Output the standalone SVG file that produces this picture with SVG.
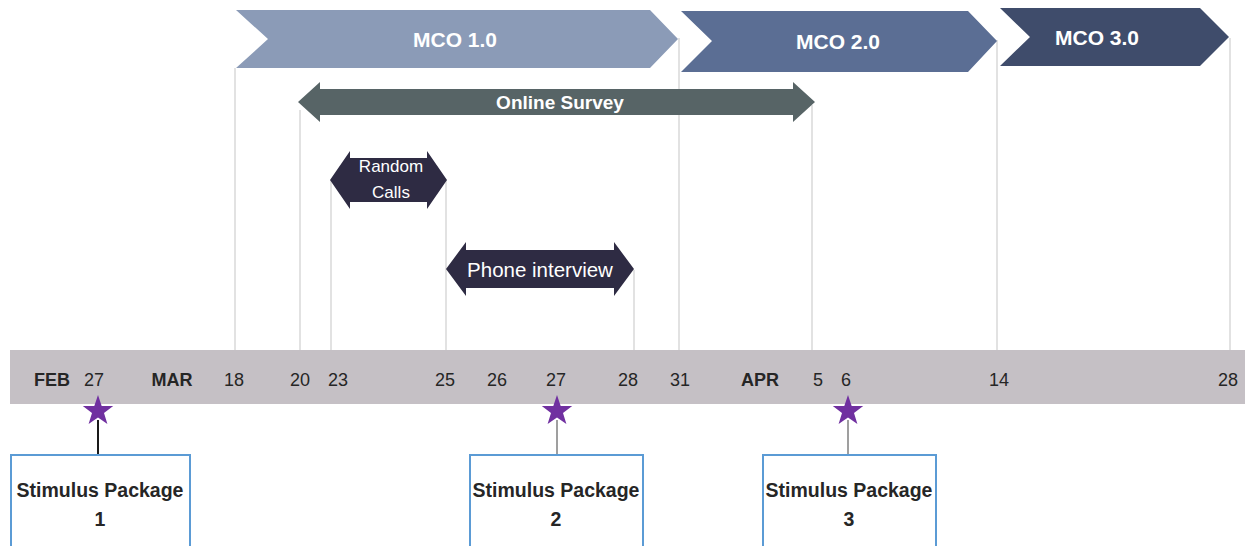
<svg xmlns="http://www.w3.org/2000/svg" width="1252" height="546" viewBox="0 0 1252 546">
  <style>
    .guide { stroke: #cfcfcf; stroke-width: 1.2; fill: none; }
    .phase { font-family: "Liberation Sans", Arial, sans-serif; font-size: 21px; font-weight: bold; fill: #ffffff; text-anchor: middle; }
    .span-label { font-family: "Liberation Sans", Arial, sans-serif; fill: #ffffff; text-anchor: middle; }
    .tick { font-family: "Liberation Sans", Arial, sans-serif; font-size: 18px; fill: #262626; text-anchor: middle; }
    .month { font-weight: bold; }
    .box { fill: #ffffff; stroke: #5b9bd5; stroke-width: 2; }
    .box-text { font-family: "Liberation Sans", Arial, sans-serif; font-size: 19.5px; font-weight: bold; fill: #262626; text-anchor: middle; }
    .star { fill: #7030a0; }
  </style>
  <defs>
    <polygon id="star" points="0,-16 3.7,-5.1 15.2,-4.9 6,1.9 9.4,12.9 0,6.4 -9.4,12.9 -6,1.9 -15.2,-4.9 -3.7,-5.1"/>
  </defs>

  <!-- date guide lines -->
  <g id="guides">
    <line class="guide" x1="235" y1="68" x2="235" y2="350"/>
    <line class="guide" x1="300" y1="110" x2="300" y2="350"/>
    <line class="guide" x1="331" y1="180" x2="331" y2="350"/>
    <line class="guide" x1="446" y1="180" x2="446" y2="350"/>
    <line class="guide" x1="634" y1="270" x2="634" y2="350"/>
    <line class="guide" x1="679" y1="38" x2="679" y2="350"/>
    <line class="guide" x1="812" y1="105" x2="812" y2="350"/>
    <line class="guide" x1="997" y1="40" x2="997" y2="350"/>
    <line class="guide" x1="1230" y1="38" x2="1230" y2="350"/>
  </g>

  <!-- MCO phases -->
  <g id="mco1">
    <polygon points="236,10 650,10 678,39 650,68 236,68 268,39" fill="#8b9bb7"/>
    <text class="phase" x="455" y="47">MCO 1.0</text>
  </g>
  <g id="mco2">
    <polygon points="681,11 968,11 997,41 968,72 681,72 712,41" fill="#5b6e94"/>
    <text class="phase" x="838" y="49">MCO 2.0</text>
  </g>
  <g id="mco3">
    <polygon points="1000,8 1200,8 1229,37 1200,66 1000,66 1030,37" fill="#3f4c6b"/>
    <text class="phase" x="1097" y="45">MCO 3.0</text>
  </g>

  <!-- survey activities -->
  <g id="online-survey">
    <polygon points="298,102 320,82 320,89 793,89 793,82 815,102 793,122 793,115 320,115 320,122" fill="#576466"/>
    <text class="span-label" x="560" y="109" font-size="19" font-weight="bold">Online Survey</text>
  </g>
  <g id="random-calls">
    <polygon points="330,180 350,151 350,158 427,158 427,151 447,180 427,209 427,202 350,202 350,209" fill="#2e2b43"/>
    <text class="span-label" x="391" y="172" font-size="17">Random</text>
    <text class="span-label" x="391" y="198" font-size="17">Calls</text>
  </g>
  <g id="phone-interview">
    <polygon points="446,269 466,242 466,250 614,250 614,242 634,269 614,296 614,288 466,288 466,296" fill="#2e2b43"/>
    <text class="span-label" x="540" y="277" font-size="20.5">Phone interview</text>
  </g>

  <!-- timeline band -->
  <g id="timeline">
    <rect x="10" y="350" width="1235" height="54" fill="#c5c0c5"/>
    <text class="tick month" x="52" y="386">FEB</text>
    <text class="tick" x="94" y="386">27</text>
    <text class="tick month" x="172" y="386">MAR</text>
    <text class="tick" x="234" y="386">18</text>
    <text class="tick" x="300" y="386">20</text>
    <text class="tick" x="338" y="386">23</text>
    <text class="tick" x="445" y="386">25</text>
    <text class="tick" x="497" y="386">26</text>
    <text class="tick" x="556" y="386">27</text>
    <text class="tick" x="628" y="386">28</text>
    <text class="tick" x="680" y="386">31</text>
    <text class="tick month" x="760" y="386">APR</text>
    <text class="tick" x="818" y="386">5</text>
    <text class="tick" x="846" y="386">6</text>
    <text class="tick" x="999" y="386">14</text>
    <text class="tick" x="1228" y="386">28</text>
  </g>

  <!-- star connectors -->
  <g id="connectors">
    <line x1="98" y1="420" x2="98" y2="455" stroke="#1a1a1a" stroke-width="2"/>
    <line x1="557" y1="420" x2="557" y2="455" stroke="#7f7f7f" stroke-width="1.5"/>
    <line x1="848" y1="420" x2="848" y2="455" stroke="#7f7f7f" stroke-width="1.5"/>
  </g>

  <g id="star-1"><use href="#star" class="star" x="98" y="411"/></g>
  <g id="star-2"><use href="#star" class="star" x="557" y="411"/></g>
  <g id="star-3"><use href="#star" class="star" x="848" y="411"/></g>

  <!-- stimulus packages -->
  <g id="package-1">
    <rect class="box" x="11" y="455" width="179" height="100"/>
    <text class="box-text" x="100" y="497">Stimulus Package</text>
    <text class="box-text" x="100" y="526">1</text>
  </g>
  <g id="package-2">
    <rect class="box" x="470" y="455" width="173" height="100"/>
    <text class="box-text" x="556" y="497">Stimulus Package</text>
    <text class="box-text" x="556" y="526">2</text>
  </g>
  <g id="package-3">
    <rect class="box" x="763" y="455" width="173" height="100"/>
    <text class="box-text" x="849" y="497">Stimulus Package</text>
    <text class="box-text" x="849" y="526">3</text>
  </g>
</svg>
